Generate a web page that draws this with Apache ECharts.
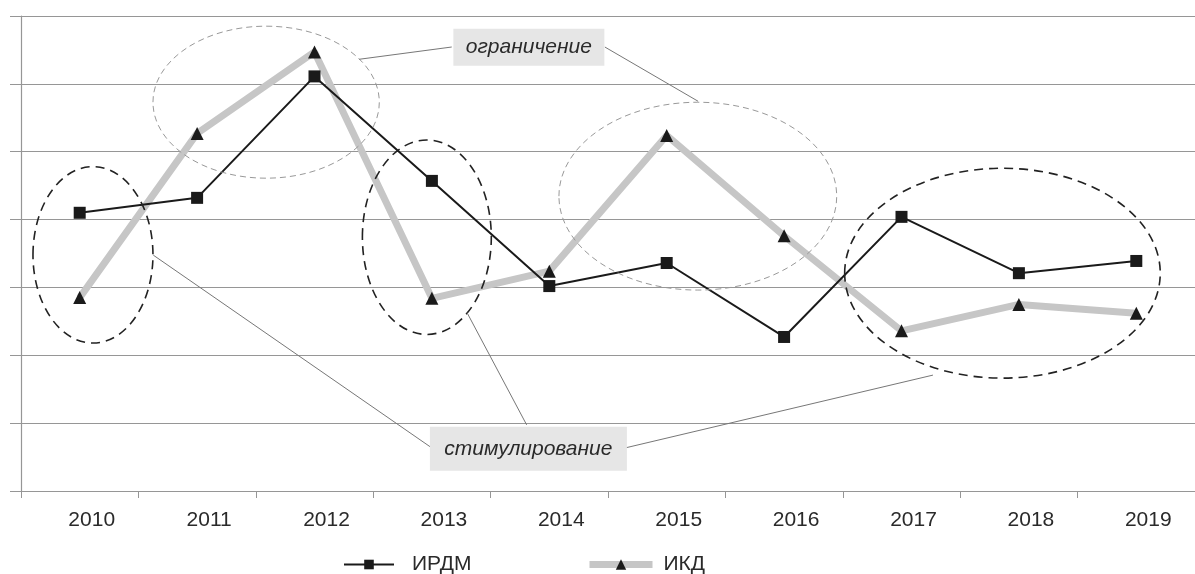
<!DOCTYPE html>
<html>
<head>
<meta charset="utf-8">
<script src="https://cdn.jsdelivr.net/npm/echarts@6/dist/echarts.min.js"></script>
<style>
html,body{margin:0;padding:0;background:#fff;}
#chart{width:1195px;height:574px;}
</style>
</head>
<body>
<div id="chart"></div>
<script>
// ---- data ----
const years = ['2010','2011','2012','2013','2014','2015','2016','2017','2018','2019'];
const irdm = [4.10, 4.32, 6.11, 4.57, 3.02, 3.36, 2.27, 4.04, 3.21, 3.39];
const ikd  = [2.85, 5.27, 6.47, 2.84, 3.24, 5.24, 3.76, 2.36, 2.75, 2.62];
const seriesNames = ['ИРДМ', 'ИКД'];
const noteLabels = ['ограничение', 'стимулирование'];

// ---- annotations in data space (category index, value) ----
const ellipses = [
  {x:0.113, v:3.48, rx:0.511, ry:1.30, kind:'stim'},
  {x:1.588, v:5.73, rx:0.964, ry:1.12, kind:'lim'},
  {x:2.957, v:3.74, rx:0.549, ry:1.433, kind:'stim'},
  {x:5.265, v:4.345, rx:1.183, ry:1.384, kind:'lim'},
  {x:7.86, v:3.21, rx:1.344, ry:1.546, kind:'stim'}
];
const leaders = [
  [2.380, 6.362, 3.169, 6.543],
  [4.473, 6.543, 5.267, 5.744],
  [0.627, 3.476, 2.985, 0.652],
  [3.299, 2.629, 3.807, 0.975],
  [4.654, 0.638, 7.268, 1.708]
];
const boxes = [
  {text: noteLabels[0], x:3.826, v:6.54, w:151, h:37},
  {text: noteLabels[1], x:3.822, v:0.623, w:197, h:44}
];

const FONT = '"Liberation Sans", Arial, sans-serif';
const chart = echarts.init(document.getElementById('chart'));
const gridColor = '#969696';

chart.setOption({
  animation: false,
  backgroundColor: '#fff',
  grid: {left: 21, right: -9, top: 16, bottom: 83, containLabel: false},
  xAxis: {
    type: 'category',
    data: years,
    boundaryGap: true,
    axisLine: {show: true, lineStyle: {color: gridColor, width: 1.2}},
    axisTick: {show: true, length: 7, lineStyle: {color: gridColor}},
    axisLabel: {color: '#2a2a2a', fontSize: 21, fontFamily: FONT, margin: 19, padding: [0,0,0,24]}
  },
  yAxis: {
    type: 'value',
    min: 0, max: 7, interval: 1,
    axisLine: {show: true, lineStyle: {color: gridColor, width: 1.2}},
    axisTick: {show: true, length: 11, lineStyle: {color: gridColor}},
    axisLabel: {show: false},
    splitLine: {show: true, lineStyle: {color: gridColor, width: 1.2}}
  },
  legend: [
    {
      data: [{name: seriesNames[0], lineStyle: {width: 2, color: '#1a1a1a'}}],
      left: 338, top: 549,
      itemWidth: 50, itemHeight: 12,
      textStyle: {fontSize: 21, fontFamily: FONT, color: '#2a2a2a', padding: [0,0,0,13]}
    },
    {
      data: [{name: seriesNames[1], lineStyle: {width: 7, color: '#c6c6c6'}}],
      left: 581, top: 549,
      itemWidth: 63, itemHeight: 13,
      textStyle: {fontSize: 21, fontFamily: FONT, color: '#2a2a2a', padding: [0,0,0,6]}
    }
  ],
  series: [
    {
      name: seriesNames[1], type: 'line', data: ikd, z: 2,
      symbol: 'triangle', symbolSize: 13,
      itemStyle: {color: '#1a1a1a'},
      lineStyle: {color: '#c6c6c6', width: 7},
      emphasis: {disabled: true}
    },
    {
      name: seriesNames[0], type: 'line', data: irdm, z: 3,
      symbol: 'rect', symbolSize: 12,
      itemStyle: {color: '#1a1a1a'},
      lineStyle: {color: '#1a1a1a', width: 2},
      emphasis: {disabled: true}
    }
  ]
});

// build annotation graphics anchored to the axes
const p0 = chart.convertToPixel({gridIndex: 0}, [0, 0]);
const p1 = chart.convertToPixel({gridIndex: 0}, [1, 1]);
const dx = p1[0] - p0[0], dy = p1[1] - p0[1];
const px = (x) => p0[0] + x * dx;
const py = (v) => p0[1] + v * dy;

const g = [];
ellipses.forEach(e => {
  const stim = e.kind === 'stim';
  g.push({
    type: 'ellipse', silent: true, z: 10,
    shape: {cx: px(e.x), cy: py(e.v), rx: e.rx * dx, ry: Math.abs(e.ry * dy)},
    style: {fill: null, stroke: stim ? '#222' : '#999', lineWidth: stim ? 1.6 : 1, lineDash: stim ? [9, 6] : [6, 4]}
  });
});
leaders.forEach(l => {
  g.push({
    type: 'line', silent: true, z: 10,
    shape: {x1: px(l[0]), y1: py(l[1]), x2: px(l[2]), y2: py(l[3])},
    style: {stroke: '#777', lineWidth: 1}
  });
});
boxes.forEach(b => {
  const cx = px(b.x), cy = py(b.v);
  g.push({
    type: 'rect', silent: true, z: 11,
    shape: {x: cx - b.w / 2, y: cy - b.h / 2, width: b.w, height: b.h},
    style: {fill: '#e6e6e6'}
  });
  g.push({
    type: 'text', silent: true, z: 12,
    x: cx, y: cy,
    style: {text: b.text, fontSize: 21, fontStyle: 'italic', fontFamily: FONT, fill: '#2a2a2a', align: 'center', verticalAlign: 'middle'}
  });
});
chart.setOption({graphic: g});
</script>
</body>
</html>
